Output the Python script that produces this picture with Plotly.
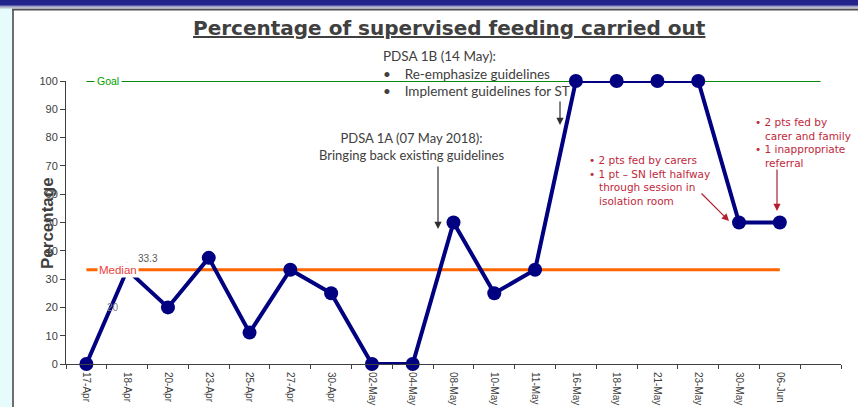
import plotly.graph_objects as go

# ---------------- data ----------------
dates = ["17-Apr", "18-Apr", "20-Apr", "23-Apr", "25-Apr", "27-Apr", "30-Apr",
         "02-May", "04-May", "08-May", "10-May", "11-May", "16-May", "18-May",
         "21-May", "23-May", "30-May", "06-Jun"]
pct = [0, 33.3, 20, 37.5, 11.1, 33.3, 25, 0, 0, 50, 25, 33.3, 100, 100, 100, 100, 50, 50]
goal = 100
median = 33.3
y_ticks = [0, 10, 20, 30, 40, 50, 60, 70, 80, 90, 100]
categories = dates + [" "]

W, H = 858, 407
def px(x):
    return x / W
def py(y):
    return 1 - y / H

GREY = "#404040"
RED = "#C0283C"

fig = go.Figure()

# goal line
fig.add_trace(go.Scatter(x=[categories[0], categories[-1]], y=[goal, goal], mode="lines",
                         line=dict(color="#0A8A0A", width=2), hoverinfo="skip",
                         showlegend=False, cliponaxis=False))
# median line
fig.add_trace(go.Scatter(x=[dates[0], dates[-1]], y=[median, median], mode="lines",
                         line=dict(color="#FF6600", width=3), hoverinfo="skip",
                         showlegend=False, cliponaxis=False))
# data
fig.add_trace(go.Scatter(x=dates, y=pct, mode="lines+markers",
                         line=dict(color="#000080", width=4),
                         marker=dict(color="#000080", size=14),
                         showlegend=False, cliponaxis=False))

ann = []
# line labels
ann.append(dict(x=0.53, y=goal, xref="x", yref="y", text="Goal", showarrow=False,
                font=dict(family="Arial", size=10.5, color="#00A000"),
                bgcolor="white", borderpad=2))
ann.append(dict(x=0.78, y=median, xref="x", yref="y", text="Median", showarrow=False,
                font=dict(family="Arial", size=11.5, color="#F03C3C"),
                bgcolor="white", borderpad=1))
# stray data labels
ann.append(dict(x=1.5, y=37.2, xref="x", yref="y", text="33.3", showarrow=False,
                font=dict(family="Arial", size=10, color="#595959")))
ann.append(dict(x=0.65, y=19.8, xref="x", yref="y", text="20", showarrow=False,
                font=dict(family="Arial", size=10, color="#808080")))

# title
ann.append(dict(x=px(449), y=py(28), xref="paper", yref="paper", xanchor="center",
                yanchor="middle",
                text="<u><b>Percentage of supervised feeding carried out</b></u>", showarrow=False,
                font=dict(family="DejaVu Sans", size=20, color=GREY)))
# y label
ann.append(dict(x=px(47), y=py(223), xref="paper", yref="paper", xanchor="center",
                yanchor="middle", text="<b>Percentage</b>",
                textangle=-90, showarrow=False,
                font=dict(family="Arial", size=17, color=GREY)))

NB = "\u00a0"
# PDSA 1B
ann.append(dict(x=px(381), y=py(46), xref="paper", yref="paper", xanchor="left", yanchor="top",
                align="left", showarrow=False,
                text="PDSA 1B (14 May):<br>" + "•" + NB*4 + "Re-emphasize guidelines<br>"
                     + "•" + NB*4 + "Implement guidelines for ST",
                font=dict(family="Lato", size=13.5, color=GREY)))
# PDSA 1A
ann.append(dict(x=px(411), y=py(128), xref="paper", yref="paper", xanchor="center", yanchor="top",
                align="center", showarrow=False,
                text="PDSA 1A (07 May 2018):<br>Bringing back existing guidelines",
                font=dict(family="Lato", size=13, color=GREY)))
# red notes
ann.append(dict(x=px(587), y=py(152), xref="paper", yref="paper", xanchor="left", yanchor="top",
                align="left", showarrow=False,
                text="• 2 pts fed by carers<br>• 1 pt – SN left halfway<br>" + NB*3 +
                     "through session in<br>" + NB*3 + "isolation room",
                font=dict(family="DejaVu Sans", size=10.5, color=RED)))
ann.append(dict(x=px(753), y=py(114), xref="paper", yref="paper", xanchor="left", yanchor="top",
                align="left", showarrow=False,
                text="• 2 pts fed by<br>" + NB*3 + "carer and family<br>• 1 inappropriate<br>"
                     + NB*3 + "referral",
                font=dict(family="DejaVu Sans", size=10.5, color=RED)))

# arrows
def arrow(hx, hy, tx, ty, color):
    return dict(x=px(hx), y=py(hy), xref="paper", yref="paper", text="", showarrow=True,
                ax=tx - hx, ay=ty - hy, arrowhead=2, arrowsize=1.2, arrowwidth=1.2,
                arrowcolor=color)
ann.append(arrow(438, 229, 438, 165, "#303030"))
ann.append(arrow(560, 125, 560, 100, "#303030"))
ann.append(arrow(729, 221, 700, 192, "#B02030"))
ann.append(arrow(777, 211, 777, 168, "#B02030"))

# background decoration
shapes = [
    dict(type="rect", xref="paper", yref="paper", x0=0, x1=px(12), y0=0, y1=1,
         fillcolor="#E6FCFC", line_width=0, layer="below"),
    dict(type="rect", xref="paper", yref="paper", x0=px(12), x1=px(14), y0=0, y1=py(9),
         fillcolor="#6E6E6E", line_width=0, layer="below"),
    dict(type="rect", xref="paper", yref="paper", x0=px(12), x1=1, y0=py(10.5), y1=py(8.5),
         fillcolor="#505050", line_width=0, layer="below"),
    dict(type="rect", xref="paper", yref="paper", x0=0, x1=1, y0=py(8.5), y1=py(6.5),
         fillcolor="#B8BCCC", line_width=0, layer="below"),
    dict(type="rect", xref="paper", yref="paper", x0=0, x1=1, y0=py(6.5), y1=py(5),
         fillcolor="#5A5AA8", line_width=0, layer="below"),
    dict(type="rect", xref="paper", yref="paper", x0=0, x1=1, y0=py(5), y1=1,
         fillcolor="#23238C", line_width=0, layer="below"),
]

fig.update_layout(
    width=W, height=H, margin=dict(l=0, r=0, t=0, b=0),
    paper_bgcolor="white", plot_bgcolor="white",
    annotations=ann, shapes=shapes, showlegend=False,
    xaxis=dict(domain=[px(66), px(841)], type="category", categoryorder="array",
               categoryarray=categories, range=[-0.5, 18.5], tickson="boundaries",
               ticks="outside", ticklen=4, tickcolor=GREY, showline=True, linecolor=GREY,
               linewidth=1, showgrid=False, zeroline=False, tickangle=90,
               ticklabelstandoff=5,
               tickfont=dict(family="Arial", size=10, color=GREY), automargin=False),
    yaxis=dict(domain=[py(364), py(81)], range=[0, 100], tickvals=y_ticks,
               ticks="outside", ticklen=5, tickcolor=GREY, showline=True, linecolor=GREY,
               linewidth=1, showgrid=False, zeroline=False,
               tickfont=dict(family="Arial", size=11, color=GREY), automargin=False),
)

fig.write_html("out.html", config={"displayModeBar": False},
               post_script="document.body.style.margin='0px';document.body.style.overflow='hidden';")
